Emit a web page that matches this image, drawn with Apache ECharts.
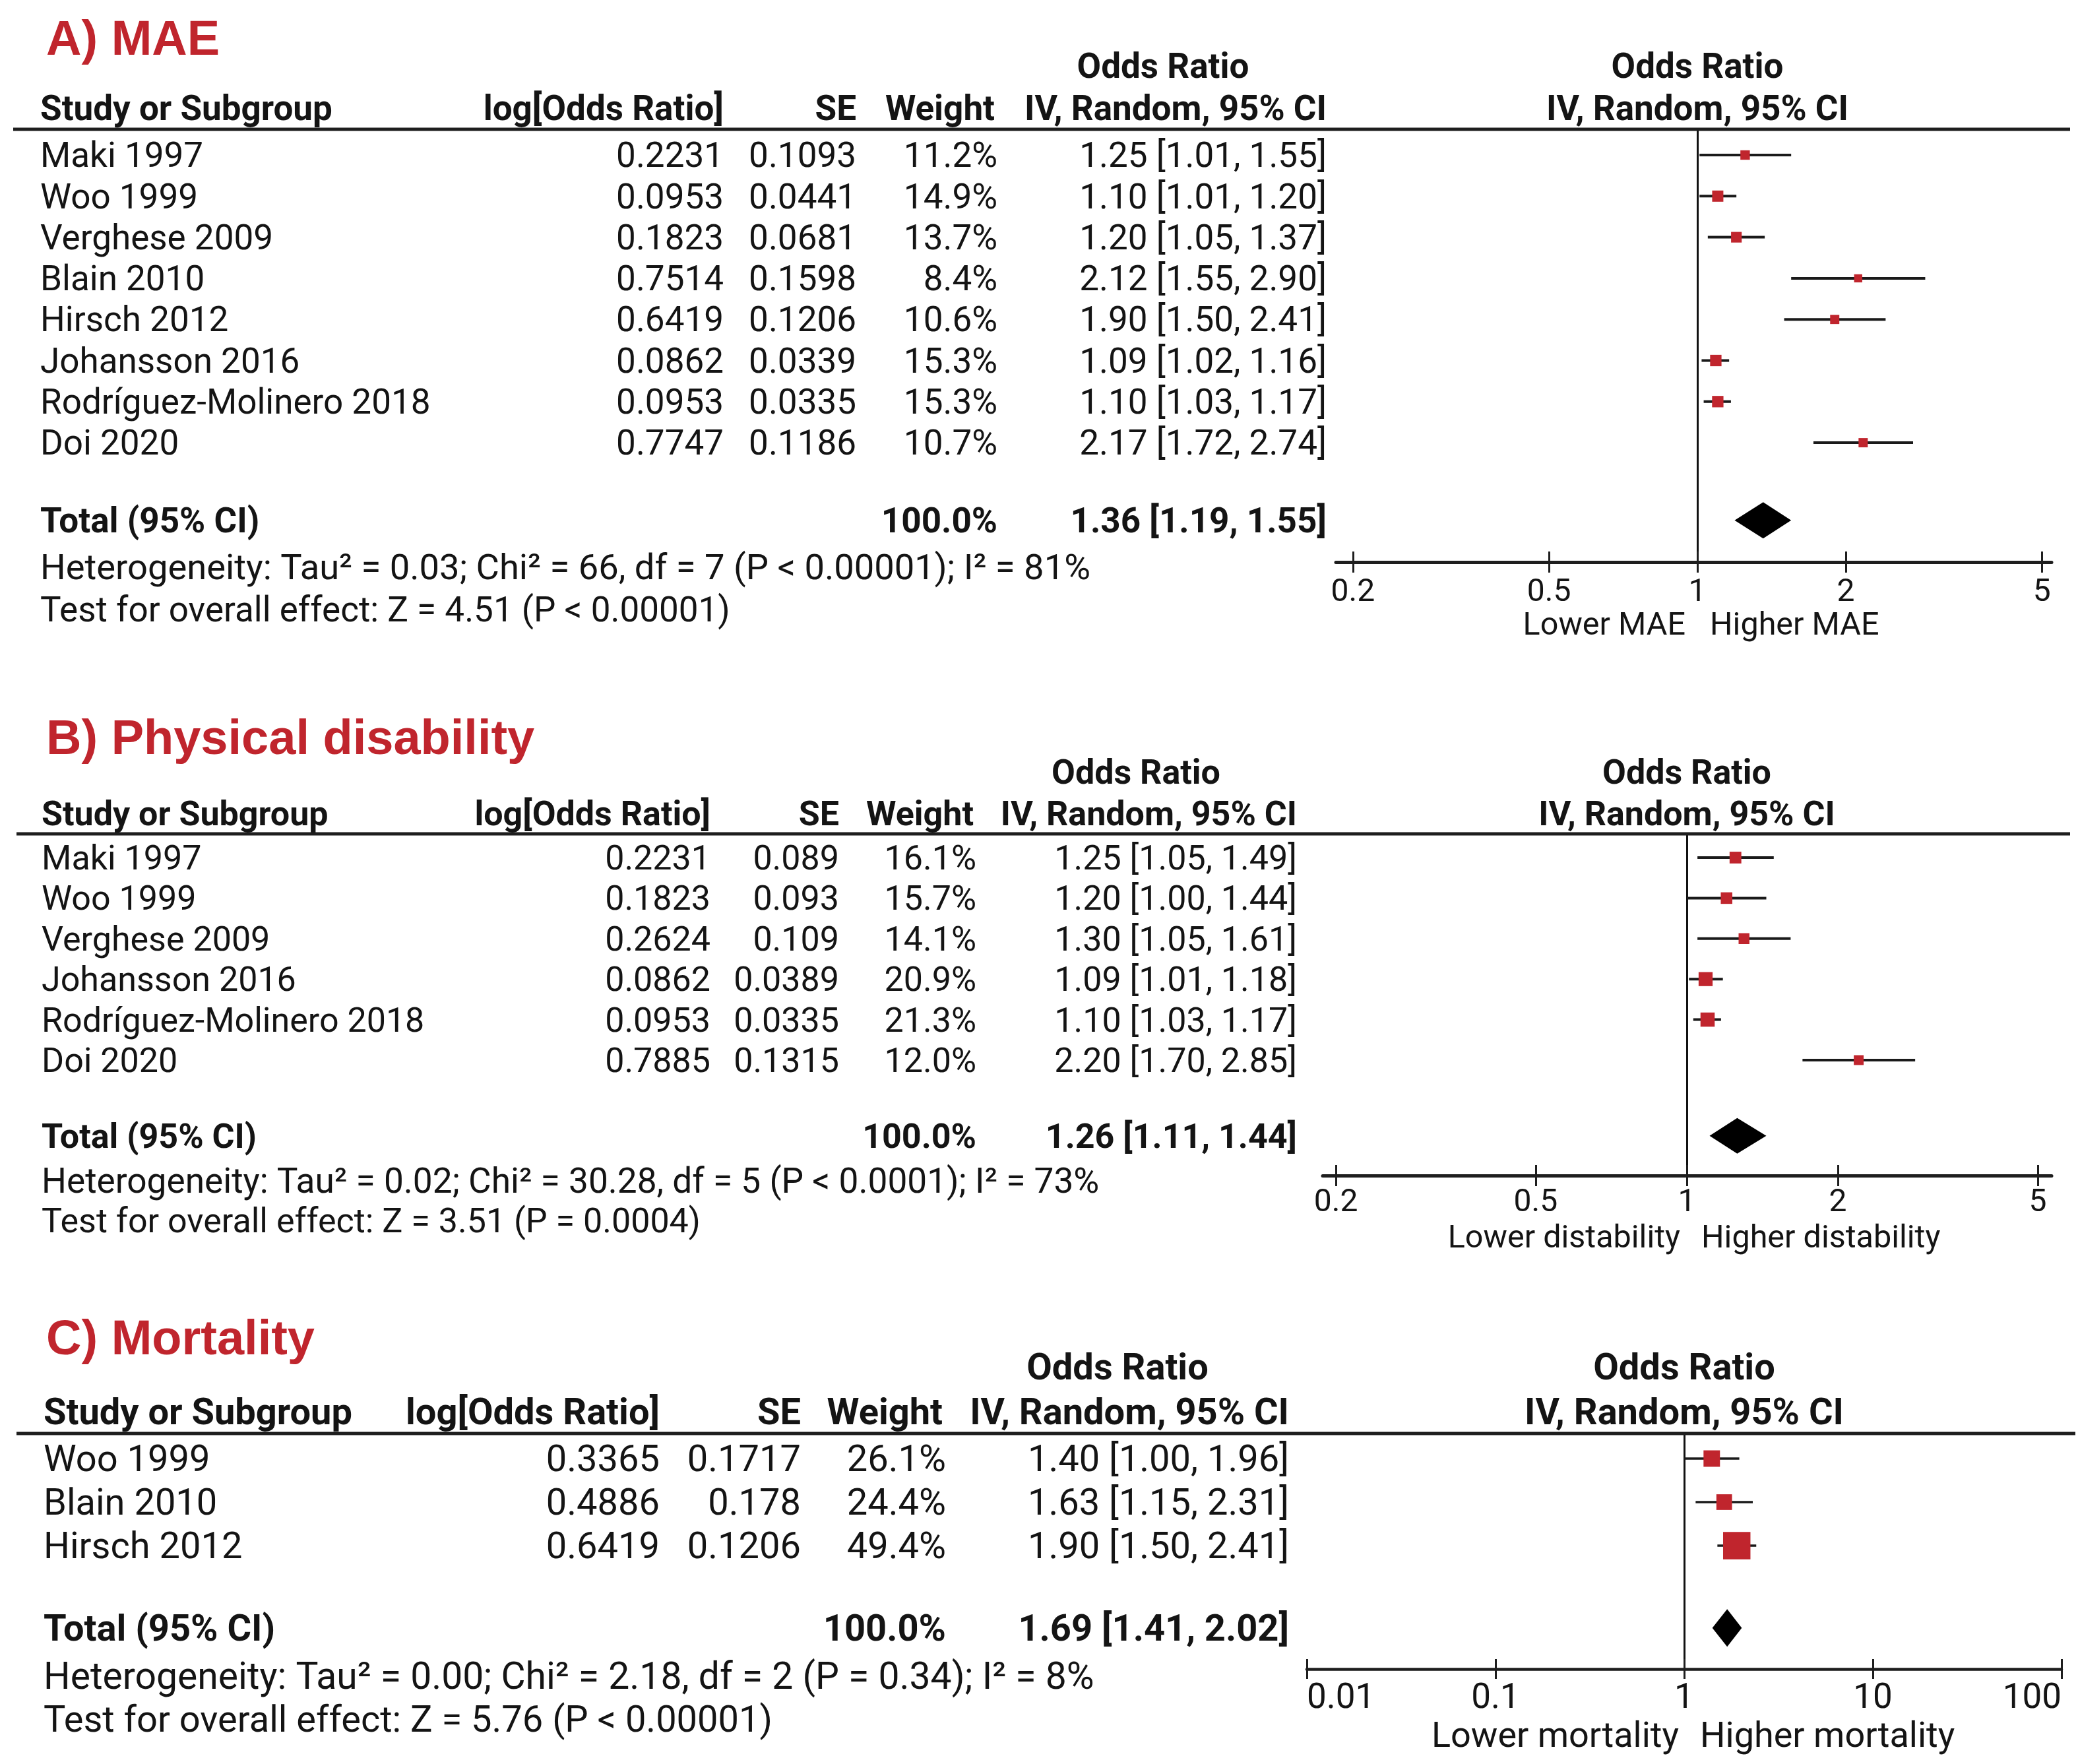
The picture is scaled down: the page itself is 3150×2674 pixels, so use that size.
<!DOCTYPE html>
<html>
<head>
<meta charset="utf-8">
<script src="https://cdn.jsdelivr.net/npm/echarts@6/dist/echarts.min.js"></script>
<style>html,body{margin:0;padding:0;background:#fff}#c{width:3150px;height:2674px}</style>
</head>
<body>
<div id="c"></div>
<script>
// ---------------- DATA ----------------
// A) MAE
const studiesA = ['Maki 1997','Woo 1999','Verghese 2009','Blain 2010','Hirsch 2012','Johansson 2016','Rodríguez-Molinero 2018','Doi 2020'];
const logOrA  = [0.2231,0.0953,0.1823,0.7514,0.6419,0.0862,0.0953,0.7747];
const seA     = [0.1093,0.0441,0.0681,0.1598,0.1206,0.0339,0.0335,0.1186];
const weightA = [11.2,14.9,13.7,8.4,10.6,15.3,15.3,10.7];
const orA     = [1.25,1.10,1.20,2.12,1.90,1.09,1.10,2.17];
const loA     = [1.01,1.01,1.05,1.55,1.50,1.02,1.03,1.72];
const hiA     = [1.55,1.20,1.37,2.90,2.41,1.16,1.17,2.74];
const totalA  = [1.36,1.19,1.55];
const hetA  = 'Heterogeneity: Tau² = 0.03; Chi² = 66, df = 7 (P < 0.00001); I² = 81%';
const testA = 'Test for overall effect: Z = 4.51 (P < 0.00001)';

// B) Physical disability
const studiesB = ['Maki 1997','Woo 1999','Verghese 2009','Johansson 2016','Rodríguez-Molinero 2018','Doi 2020'];
const logOrB  = [0.2231,0.1823,0.2624,0.0862,0.0953,0.7885];
const seB     = [0.089,0.093,0.109,0.0389,0.0335,0.1315];
const weightB = [16.1,15.7,14.1,20.9,21.3,12.0];
const orB     = [1.25,1.20,1.30,1.09,1.10,2.20];
const loB     = [1.05,1.00,1.05,1.01,1.03,1.70];
const hiB     = [1.49,1.44,1.61,1.18,1.17,2.85];
const totalB  = [1.26,1.11,1.44];
const hetB  = 'Heterogeneity: Tau² = 0.02; Chi² = 30.28, df = 5 (P < 0.0001); I² = 73%';
const testB = 'Test for overall effect: Z = 3.51 (P = 0.0004)';

// C) Mortality
const studiesC = ['Woo 1999','Blain 2010','Hirsch 2012'];
const logOrC  = [0.3365,0.4886,0.6419];
const seC     = [0.1717,0.178,0.1206];
const weightC = [26.1,24.4,49.4];
const orC     = [1.40,1.63,1.90];
const loC     = [1.00,1.15,1.50];
const hiC     = [1.96,2.31,2.41];
const totalC  = [1.69,1.41,2.02];
const hetC  = 'Heterogeneity: Tau² = 0.00; Chi² = 2.18, df = 2 (P = 0.34); I² = 8%';
const testC = 'Test for overall effect: Z = 5.76 (P < 0.00001)';

// Axis tick labels
const ticksAB = [0.2, 0.5, 1, 2, 5];
const ticksC  = [0.01, 0.1, 1, 10, 100];

// ---------------- STYLE / LAYOUT ----------------
const FONT = 'Roboto';
const TITLE_FONT = 'Liberation Sans';
const INK = '#141414';
const RED = '#c0252d';
const TEXT_DY = 5;    // visual centring of Roboto glyphs
const TITLE_DY = 9;

const panels = [
  { title:'A) MAE', studies:studiesA, logOr:logOrA, se:seA, w:weightA, or:orA, lo:loA, hi:hiA, tot:totalA,
    het:hetA, test:testA, ticks:ticksAB, lowLab:'Lower MAE', highLab:'Higher MAE',
    L:{ titleY:54, h1Y:100, h2Y:164, lineY:196, lineX1:20, lineX2:3138, row0:235, rowH:62.3, axisY:852,
        totOff:0.89, hetOff:2.03, testOff:3.06,
        colName:61, colLog:1097, colSE:1298, colW:1512, colWhdr:1508, colCI:2011, h1Center:1763,
        center:2573, decade:747, axisL:2025, axisR:3110,
        fs:53, hetFs:54.3, tickFs:48, tickMargin:23, sideDy:98, sideL:18, sideR:19, sideFs:48.5, diamondH:55,
        ciW:4, vW:3, axisW:5, tickLen:16, alignEnds:false } },
  { title:'B) Physical disability', studies:studiesB, logOr:logOrB, se:seB, w:weightB, or:orB, lo:loB, hi:hiB, tot:totalB,
    het:hetB, test:testB, ticks:ticksAB, lowLab:'Lower distability', highLab:'Higher distability',
    L:{ titleY:1114, h1Y:1170, h2Y:1233, lineY:1264, lineX1:25, lineX2:3138, row0:1300, rowH:61.4, axisY:1782,
        totOff:0.87, hetOff:1.98, testOff:2.96,
        colName:63, colLog:1077, colSE:1272, colW:1480, colWhdr:1476, colCI:1966, h1Center:1722,
        center:2557, decade:761, axisL:2005, axisR:3110,
        fs:52, hetFs:53.2, tickFs:48, tickMargin:18, sideDy:97, sideL:10, sideR:22, sideFs:48.5, diamondH:54,
        ciW:4, vW:3, axisW:5, tickLen:16, alignEnds:false } },
  { title:'C) Mortality', studies:studiesC, logOr:logOrC, se:seC, w:weightC, or:orC, lo:loC, hi:hiC, tot:totalC,
    het:hetC, test:testC, ticks:ticksC, lowLab:'Lower mortality', highLab:'Higher mortality',
    L:{ titleY:2024, h1Y:2072, h2Y:2140, lineY:2173, lineX1:25, lineX2:3146, row0:2211, rowH:66, axisY:2530,
        totOff:0.89, hetOff:1.99, testOff:2.99,
        colName:66, colLog:1000, colSE:1214, colW:1434, colWhdr:1429, colCI:1954, h1Center:1694,
        center:2553, decade:286, axisL:1981, axisR:3125,
        fs:56, hetFs:57, tickFs:53, tickMargin:19, sideDy:104, sideL:8, sideR:24, sideFs:54, diamondH:57,
        ciW:3.5, vW:3, axisW:4.5, tickLen:15, alignEnds:true } }
];

// box side in px grows with study weight
const boxSide = w => 6.4 + 0.71 * w;

// ---------------- BUILD OPTION ----------------
const grids = [], xAxes = [], yAxes = [], series = [];
panels.forEach((p, i) => {
  const L = p.L;
  const n = p.studies.length;
  grids.push({ left:L.axisL, top:L.lineY, width:L.axisR - L.axisL, height:L.axisY - L.lineY });
  const xmin = (L.axisL - L.center) / L.decade, xmax = (L.axisR - L.center) / L.decade;
  const tv = p.ticks.map(Math.log10);
  const fmt = v => { const t = p.ticks.find(t => Math.abs(Math.log10(t) - v) < 1e-6); return t === undefined ? '' : String(t); };
  xAxes.push({ type:'value', gridIndex:i, min:xmin, max:xmax, position:'bottom',
    axisLine:{ show:true, onZero:false, lineStyle:{ color:'#1e1e1e', width:L.axisW } },
    axisTick:{ show:true, inside:false, length:L.tickLen, customValues:tv, lineStyle:{ color:'#1e1e1e', width:3 } },
    axisLabel:{ show:true, customValues:tv, formatter:fmt, margin:L.tickMargin, fontFamily:FONT, fontSize:L.tickFs, color:INK,
      alignMinLabel: L.alignEnds ? 'left' : null, alignMaxLabel: L.alignEnds ? 'right' : null },
    splitLine:{ show:false } });
  xAxes.push({ type:'value', gridIndex:i, min:xmin, max:xmax, position:'bottom',
    axisLine:{ show:false, onZero:false },
    axisTick:{ show:true, inside:true, length:L.tickLen, customValues:tv, lineStyle:{ color:'#1e1e1e', width:3 } },
    axisLabel:{ show:false }, splitLine:{ show:false } });
  yAxes.push({ type:'value', gridIndex:i, inverse:true,
    min:(L.lineY - L.row0) / L.rowH, max:(L.axisY - L.row0) / L.rowH,
    axisLine:{ show:true, onZero:true, onZeroAxisIndex:i * 2, lineStyle:{ color:'#111', width:L.vW } },
    axisTick:{ show:false }, axisLabel:{ show:false }, splitLine:{ show:false } });

  series.push({ type:'custom', name:'studies' + i, xAxisIndex:i * 2, yAxisIndex:i, clip:false, z:5,
    data: p.or.map((o, k) => [Math.log10(o), k, Math.log10(p.lo[k]), Math.log10(p.hi[k]), p.w[k]]),
    renderItem: (params, api) => {
      const y = api.value(1);
      const a = api.coord([api.value(2), y]), b = api.coord([api.value(3), y]), c = api.coord([api.value(0), y]);
      const s = boxSide(api.value(4));
      return { type:'group', children:[
        { type:'line', shape:{ x1:a[0], y1:a[1], x2:b[0], y2:b[1] }, style:{ stroke:'#1a1a1a', lineWidth:L.ciW } },
        { type:'rect', shape:{ x:c[0] - s / 2, y:c[1] - s / 2, width:s, height:s }, style:{ fill:RED } }
      ]};
    } });
  series.push({ type:'custom', name:'total' + i, xAxisIndex:i * 2, yAxisIndex:i, clip:false, z:5,
    data: [[Math.log10(p.tot[0]), n + L.totOff, Math.log10(p.tot[1]), Math.log10(p.tot[2])]],
    renderItem: (params, api) => {
      const y = api.value(1);
      const a = api.coord([api.value(2), y]), b = api.coord([api.value(3), y]), c = api.coord([api.value(0), y]);
      const h = L.diamondH / 2;
      return { type:'polygon', shape:{ points:[[a[0], a[1]], [c[0], c[1] - h], [b[0], b[1]], [c[0], c[1] + h]] }, style:{ fill:'#000' } };
    } });
});

const chart = echarts.init(document.getElementById('c'), null, { renderer:'canvas', width:3150, height:2674 });
chart.setOption({ backgroundColor:'#fff', animation:false, grid:grids, xAxis:xAxes, yAxis:yAxes, series:series });

// ---------------- TEXT (positioned on the same axes) ----------------
const els = [];
function txt(x, y, text, opt) {
  opt = opt || {};
  els.push({ type:'text', x:x, y:y + (opt.dy === undefined ? TEXT_DY : opt.dy), silent:true, z:10, style:{
    text:text, fill:opt.fill || INK, fontFamily:opt.family || FONT, fontSize:opt.size,
    fontWeight:opt.bold ? 'bold' : 'normal', align:opt.align || 'left', verticalAlign:'middle' } });
}
panels.forEach((p, i) => {
  const L = p.L, n = p.studies.length;
  const Y = v => chart.convertToPixel({ yAxisIndex:i }, v);
  const X0 = chart.convertToPixel({ xAxisIndex:i * 2 }, 0);
  const fs = L.fs;
  txt(70, L.titleY, p.title, { family:TITLE_FONT, size:74, bold:true, fill:RED, dy:TITLE_DY });
  txt(L.h1Center, L.h1Y, 'Odds Ratio', { size:fs, bold:true, align:'center' });
  txt(X0, L.h1Y, 'Odds Ratio', { size:fs, bold:true, align:'center' });
  txt(L.colName, L.h2Y, 'Study or Subgroup', { size:fs, bold:true });
  txt(L.colLog, L.h2Y, 'log[Odds Ratio]', { size:fs, bold:true, align:'right' });
  txt(L.colSE, L.h2Y, 'SE', { size:fs, bold:true, align:'right' });
  txt(L.colWhdr, L.h2Y, 'Weight', { size:fs, bold:true, align:'right' });
  txt(L.colCI, L.h2Y, 'IV, Random, 95% CI', { size:fs, bold:true, align:'right' });
  txt(X0, L.h2Y, 'IV, Random, 95% CI', { size:fs, bold:true, align:'center' });
  els.push({ type:'line', silent:true, z:10, shape:{ x1:L.lineX1, y1:L.lineY, x2:L.lineX2, y2:L.lineY },
    style:{ stroke:'#1e1e1e', lineWidth:5 } });
  p.studies.forEach((s, k) => {
    const y = Y(k);
    txt(L.colName, y, s, { size:fs });
    txt(L.colLog, y, String(p.logOr[k]), { size:fs, align:'right' });
    txt(L.colSE, y, String(p.se[k]), { size:fs, align:'right' });
    txt(L.colW, y, p.w[k].toFixed(1) + '%', { size:fs, align:'right' });
    txt(L.colCI, y, p.or[k].toFixed(2) + ' [' + p.lo[k].toFixed(2) + ', ' + p.hi[k].toFixed(2) + ']', { size:fs, align:'right' });
  });
  const yt = Y(n + L.totOff);
  txt(L.colName, yt, 'Total (95% CI)', { size:fs, bold:true });
  txt(L.colW, yt, '100.0%', { size:fs, bold:true, align:'right' });
  txt(L.colCI, yt, p.tot[0].toFixed(2) + ' [' + p.tot[1].toFixed(2) + ', ' + p.tot[2].toFixed(2) + ']', { size:fs, bold:true, align:'right' });
  txt(L.colName, Y(n + L.hetOff), p.het, { size:L.hetFs });
  txt(L.colName, Y(n + L.testOff), p.test, { size:fs });
  txt(X0 - L.sideL, L.axisY + L.sideDy, p.lowLab, { size:L.sideFs, align:'right', dy:0 });
  txt(X0 + L.sideR, L.axisY + L.sideDy, p.highLab, { size:L.sideFs, align:'left', dy:0 });
});
chart.setOption({ graphic:{ elements:els } });
</script>
</body>
</html>
